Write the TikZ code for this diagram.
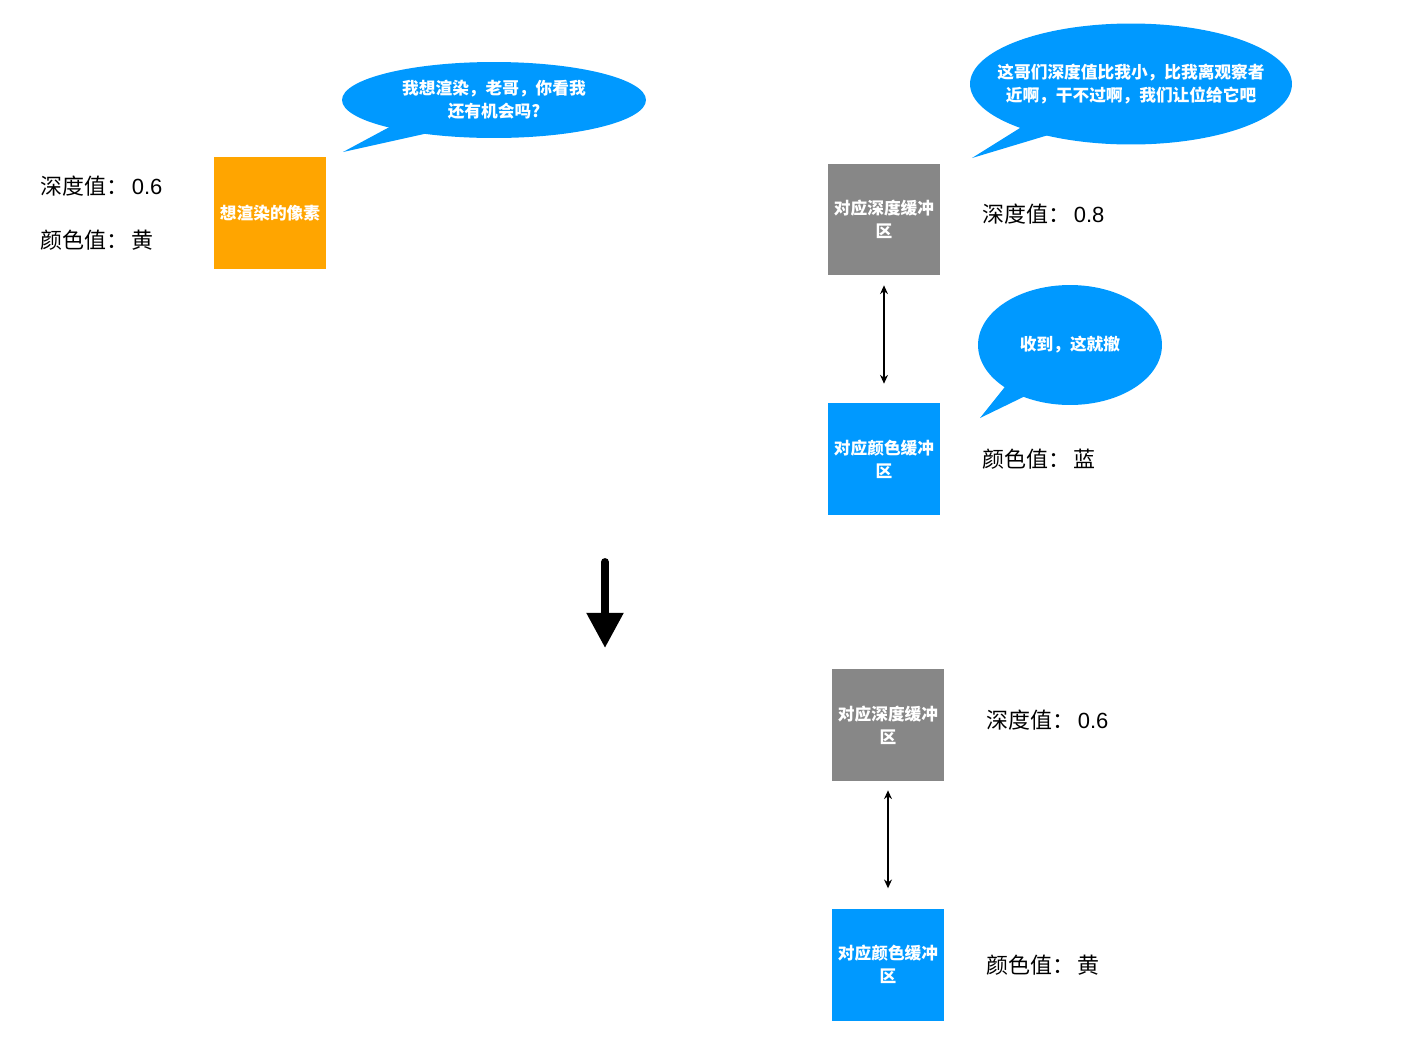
\documentclass[tikz,border=0pt]{standalone}
\usepackage{fontspec}
\setmainfont{Noto Sans CJK SC}
\newfontfamily\latinnum{Liberation Sans}
\usetikzlibrary{arrows.meta}
\definecolor{bblue}{HTML}{0099FF}
\definecolor{borange}{HTML}{FFA500}
\definecolor{bgray}{HTML}{878787}
\begin{document}
\begin{tikzpicture}[x=0.02cm,y=-0.02cm,
  boxnode/.style={minimum width=2.24cm, minimum height=2.24cm, inner sep=0pt, text=white,
    font=\bfseries\fontsize{9.5}{13}\selectfont, align=center},
  lbl/.style={anchor=west, inner sep=0pt, font=\fontsize{12.5}{14}\selectfont},
  btext/.style={inner sep=0pt, text=white, font=\bfseries\fontsize{9.5}{13}\selectfont, align=center},
  dbl/.style={{Stealth[length=5pt,width=4.5pt]}-{Stealth[length=5pt,width=4.5pt]}, line width=0.8pt}]
\useasboundingbox (0,0) rectangle (1427,1049);

% bubbles
\fill[bblue] (494,100) ellipse [x radius=3.04cm, y radius=0.76cm];
\fill[bblue] (343,152) -- (410,116) -- (460,126) -- cycle;
\node[btext] (b1) at (494,100) {我想渲染，老哥，你看我\\还有机会吗?};

\fill[bblue] (1131,84) ellipse [x radius=3.22cm, y radius=1.21cm];
\fill[bblue] (972,158) -- (1036,118) -- (1075,127) -- cycle;
\node[btext] (b2) at (1131,84) {这哥们深度值比我小，比我离观察者\\近啊，干不过啊，我们让位给它吧};

\fill[bblue] (1070,345) ellipse [x radius=1.84cm, y radius=1.2cm];
\fill[bblue] (980,418) -- (1020,368) -- (1050,384) -- cycle;
\node[btext] (b3) at (1070,345) {收到，这就撤};

% pixel
\node[boxnode, fill=borange] (pix) at (270,213) {想渲染的像素};
\node[lbl] (l1) at (40,186) {深度值：\,{\latinnum 0.6}};
\node[lbl] (l2) at (40,240) {颜色值：\,黄};

% top buffers
\node[boxnode, fill=bgray] (d1) at (884,219.5) {对应深度缓冲\\区};
\node[boxnode, fill=bblue] (c1) at (884,459) {对应颜色缓冲\\区};
\node[lbl] (l3) at (982,214) {深度值：\,{\latinnum 0.8}};
\node[lbl] (l4) at (982,459) {颜色值：\,蓝};
\draw[dbl, shorten <=5.4pt, shorten >=10.8pt] (d1) -- (c1);

% big arrow
\coordinate (at) at (605,562);
\coordinate (ah) at (605,648);
\draw[line width=4.5pt, line cap=round, -{Triangle[length=20pt,width=20pt]}] (at) -- (ah);

% bottom buffers
\node[boxnode, fill=bgray] (d2) at (888,725) {对应深度缓冲\\区};
\node[boxnode, fill=bblue] (c2) at (888,964.5) {对应颜色缓冲\\区};
\node[lbl] (l5) at (986,720) {深度值：\,{\latinnum 0.6}};
\node[lbl] (l6) at (986,965) {颜色值：\,黄};
\draw[dbl, shorten <=5.1pt, shorten >=11.3pt] (d2) -- (c2);
\end{tikzpicture}
\end{document}
